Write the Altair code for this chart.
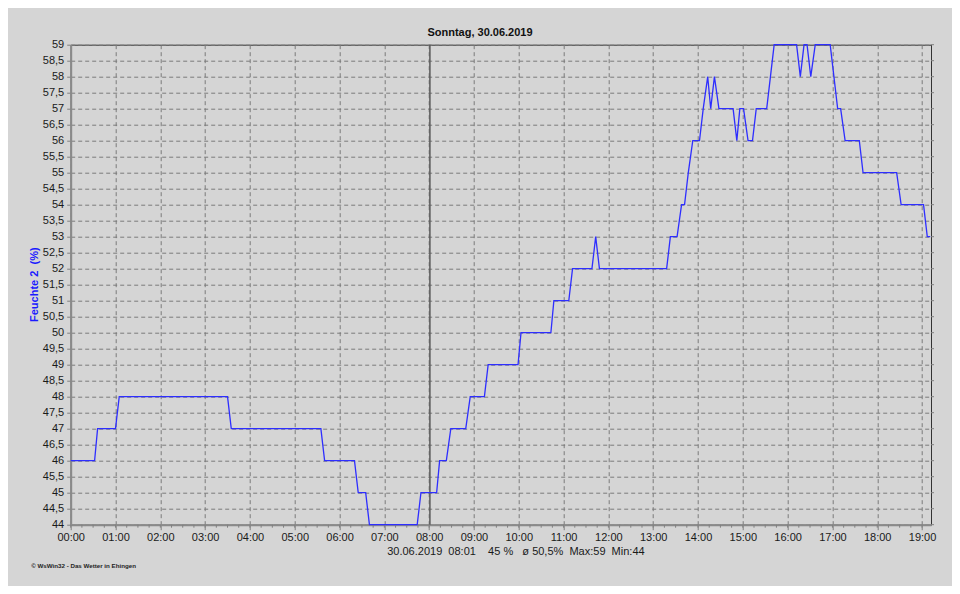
import altair as alt
import pandas as pd

# ---- data ----
times = ["00:00", "00:32", "00:36", "01:00", "01:05", "03:30", "03:35", "05:35", "05:40",
         "06:20", "06:25", "06:35", "06:40", "07:44", "07:49", "08:10", "08:14", "08:23",
         "08:29", "08:49", "08:55", "09:14", "09:19", "09:59", "10:03", "10:43", "10:47",
         "11:07", "11:12", "11:38", "11:43", "11:48", "13:18", "13:23", "13:32", "13:38",
         "13:42", "13:47", "13:53", "14:02", "14:07", "14:13", "14:17", "14:22", "14:28",
         "14:47", "14:52", "14:56", "15:01", "15:07", "15:13", "15:18", "15:32", "15:37",
         "15:42", "16:12", "16:17", "16:22", "16:26", "16:31", "16:37", "16:57", "17:02",
         "17:07", "17:11", "17:17", "17:36", "17:41", "18:26", "18:32", "19:02", "19:07",
         "19:11"]
humidity = [46, 46, 47, 47, 48, 48, 47, 47, 46,
            46, 45, 45, 44, 44, 45, 45, 46, 46,
            47, 47, 48, 48, 49, 49, 50, 50, 51,
            51, 52, 52, 53, 52, 52, 53, 53, 54,
            54, 55, 56, 56, 57, 58, 57, 58, 57,
            57, 56, 57, 57, 56, 56, 57, 57, 58,
            59, 59, 58, 59, 59, 58, 59, 59, 58,
            57, 57, 56, 56, 55, 55, 54, 54, 53,
            53]
y_ticks = [44 + 0.5 * i for i in range(31)]
hour_ticks = list(range(0, 20))
minor_ticks = [i * 0.25 for i in range(0, 77)]
cursor_time = "08:01"

title_text = "Sonntag, 30.06.2019"
y_title = "Feuchte 2\u00a0\u00a0(%)"
status_text = "30.06.2019\u00a0\u00a008:01\u00a0\u00a0\u00a0\u00a045 %\u00a0\u00a0\u00a0ø 50,5%\u00a0\u00a0Max:59\u00a0\u00a0Min:44"
footer_text = "© WsWin32  -  Das Wetter in Ehingen"


def to_hours(t):
    h, m = t.split(":")
    return int(h) + int(m) / 60.0


df = pd.DataFrame({"h": [to_hours(t) for t in times], "v": humidity})

W, H = 860.3, 480
FONT = "Liberation Sans"
BG = "#d5d5d5"

xscale = alt.Scale(domain=[0, 19.2], nice=False, zero=False)
yscale = alt.Scale(domain=[44, 59], nice=False, zero=False)

xaxis = alt.Axis(
    values=hour_ticks, title=None,
    labelExpr="(datum.value < 10 ? '0' : '') + datum.value + ':00'",
    grid=True, gridDash=[4, 3], gridColor="#7a7a7a", gridWidth=1,
    tickSize=5, tickColor="#808080", domainColor="#8a8a8a", domainWidth=2,
    labelFont=FONT, labelFontSize=11, labelColor="#1a1a1a", labelPadding=2,
    labelFlush=False, labelOverlap=False)
yaxis = alt.Axis(
    values=y_ticks, title=None,
    labelExpr="replace(toString(datum.value), '.', ',')",
    grid=True, gridDash=[4, 3], gridColor="#7a7a7a", gridWidth=1,
    tickSize=4, tickColor="#808080", domainColor="#8a8a8a", domainWidth=2,
    labelFont=FONT, labelFontSize=11, labelColor="#1a1a1a", labelPadding=3,
    labelFlush=False, labelOverlap=False)

line = alt.Chart(df).mark_line(color="#2e2eff", strokeWidth=1.3).encode(
    x=alt.X("h:Q", scale=xscale, axis=xaxis),
    y=alt.Y("v:Q", scale=yscale, axis=yaxis),
)

minor = alt.Chart(pd.DataFrame({"h": minor_ticks})).mark_rule(
    color="#808080", strokeWidth=1).encode(
    x=alt.X("h:Q", scale=xscale, axis=xaxis), y=alt.value(H), y2=alt.value(H + 3))

right_ticks = alt.Chart(pd.DataFrame({"v": y_ticks})).mark_rule(
    color="#808080", strokeWidth=1).encode(
    y=alt.Y("v:Q", scale=yscale, axis=yaxis), x=alt.value(W), x2=alt.value(W + 3))

cursor = alt.Chart(pd.DataFrame({"h": [to_hours(cursor_time)]})).mark_rule(
    color="#5a5a5a", strokeWidth=1.5).encode(
    x=alt.X("h:Q", scale=xscale, axis=xaxis), y=alt.value(0), y2=alt.value(H))

title = alt.Chart(pd.DataFrame({"t": [title_text]})).mark_text(
    font=FONT, fontSize=11, fontWeight="bold", color="#111", align="center",
    baseline="middle").encode(text="t:N", x=alt.value(409.3), y=alt.value(-12))

ytitle = alt.Chart(pd.DataFrame({"t": [y_title]})).mark_text(
    font=FONT, fontSize=11, fontWeight="bold", color="#1a1aff", align="center",
    baseline="middle", angle=270).encode(text="t:N", x=alt.value(-35.5), y=alt.value(240))

status = alt.Chart(pd.DataFrame({"t": [status_text]})).mark_text(
    font=FONT, fontSize=11, color="#1a1a1a", align="left",
    baseline="middle").encode(text="t:N", x=alt.value(316.5), y=alt.value(507))

footer = alt.Chart(pd.DataFrame({"t": [footer_text]})).mark_text(
    font=FONT, fontSize=6.2, fontWeight="bold", color="#222", align="left",
    baseline="middle").encode(text="t:N", x=alt.value(-39.5), y=alt.value(521.5))

chart = alt.layer(cursor, minor, right_ticks, line, title, ytitle, status, footer).properties(
    width=W, height=H,
    autosize=alt.AutoSizeParams(type="none"),
    padding={"left": 62.7, "top": 36.7, "right": 21, "bottom": 61.3},
    background=BG,
).configure_view(stroke="#333333", strokeWidth=1, fill=BG)

chart.save("out.html", embed_options={"renderer": "svg", "actions": False})
